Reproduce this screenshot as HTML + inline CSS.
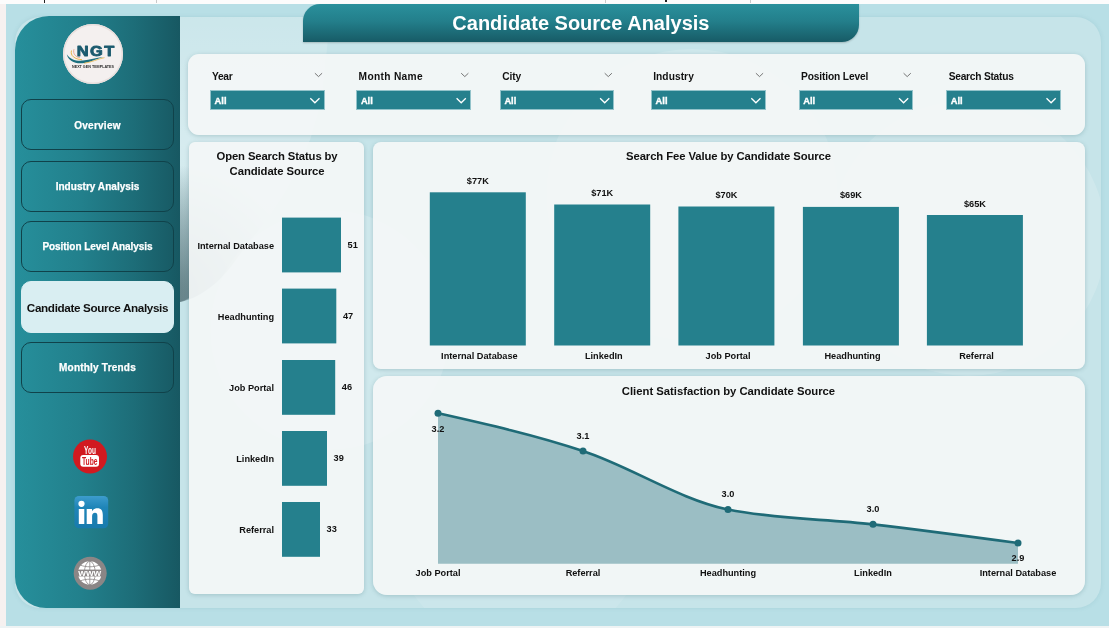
<!DOCTYPE html>
<html lang="en">
<head>
<meta charset="utf-8">
<title>Candidate Source Analysis</title>
<style>
*{box-sizing:border-box;margin:0;padding:0}
html,body{width:1109px;height:628px;overflow:hidden}
body{position:relative;background:#b8dfe6;font-family:"Liberation Sans",sans-serif;font-weight:bold;color:#111}
.abs{position:absolute}
#topstrip{left:0;top:0;width:1109px;height:4px;background:#fcfcfc}
#leftstrip{left:0;top:4px;width:6px;height:624px;background:#f6f1f0}
#botstrip{left:0;top:625.5px;width:1109px;height:3px;background:#eef3f4}
#inner{left:15px;top:16.5px;width:1085.5px;height:591.5px;border-radius:25px;background:#c6e4e9;box-shadow:0 0 4px rgba(90,150,160,.18)}
#side{left:15px;top:16px;width:164.5px;height:591.5px;border-radius:34px 0 0 31px;background:linear-gradient(90deg,#268f9b 0%,#22808c 40%,#1d6d78 72%,#175862 100%)}
#logo{left:62.5px;top:23.5px;width:60.5px;height:60.5px;border-radius:50%;background:#f4f0ef;box-shadow:0 0 0 1.5px #e9dfdd inset}
.nav{left:21px;width:153px;height:51px;border:1px solid #10424a;border-radius:10px;color:#fff;font-size:10px;display:flex;align-items:center;justify-content:center;white-space:nowrap;padding-top:1px;-webkit-text-stroke:.25px #fff}
.nav.on{-webkit-text-stroke:0;padding-top:0;background:#d9eef2;border-color:#d9eef2;color:#111;font-size:11.7px;letter-spacing:-.36px;height:52px;border-radius:10px}
#title{left:303px;top:3.8px;width:555.8px;height:38px;border-radius:17px 0 17px 0;background:linear-gradient(180deg,#2a909c 0%,#237f8b 45%,#175b66 100%);color:#fff;font-size:20px;text-align:center;line-height:38px;white-space:nowrap;box-shadow:0 1px 2px rgba(0,0,0,.2)}
.panel{background:rgba(245,247,247,.9);border-radius:7px;box-shadow:0 1px 4px rgba(60,110,120,.28)}
.flabel{font-size:10.2px;white-space:nowrap;top:70.8px;line-height:12px}
.fbox{top:90px;width:114.5px;height:19.5px;background:#25808d;border:1px solid #93c3ca;color:#fff;font-size:9.3px;line-height:21px;padding-left:3.6px;-webkit-text-stroke:.35px #fff}
.ptitle{font-size:11.3px;text-align:center;white-space:nowrap;line-height:14.8px}
.lbl{font-size:9.2px;white-space:nowrap;line-height:11px}
.bar{background:#25808d}
</style>
</head>
<body>
<div id="inner" class="abs"></div>
<svg class="abs" style="left:0;top:0" width="1109" height="628" viewBox="0 0 1109 628">
<defs>
<linearGradient id="gsh" x1="0" y1="0" x2="0" y2="1"><stop offset="0" stop-color="#4d6a70" stop-opacity="0"/><stop offset="1" stop-color="#4d6a70" stop-opacity=".55"/></linearGradient>
<clipPath id="cin"><rect x="100" y="16.5" width="1000.5" height="591.5" rx="25"/></clipPath>
<radialGradient id="gsh2" gradientUnits="userSpaceOnUse" cx="170" cy="290" r="125"><stop offset="0" stop-color="#4d6a70" stop-opacity=".6"/><stop offset=".25" stop-color="#4d6a70" stop-opacity=".4"/><stop offset="1" stop-color="#4d6a70" stop-opacity="0"/></radialGradient>
<linearGradient id="gwh" x1="0" y1="0" x2="0" y2="1"><stop offset="0" stop-color="#fff" stop-opacity=".1"/><stop offset=".45" stop-color="#fff" stop-opacity=".28"/><stop offset="1" stop-color="#fff" stop-opacity="0"/></linearGradient>
</defs>
<g clip-path="url(#cin)">
<path d="M180,17 L330,17 L322,100 L310,140 L290,184 C275,210 262,228 249,241 C235,262 222,280 208,289 C198,296 190,300 180,302 Z" fill="url(#gwh)"/>
<path d="M180,140 L300,140 L290,184 C275,210 262,228 249,241 C235,262 222,280 208,289 C198,296 190,300 180,302 Z" fill="url(#gsh2)"/>
<path d="M180,165 L189,165 L189,298 C186,300 183,301 180,302 Z" fill="url(#gsh)"/>
<circle cx="330" cy="330" r="120" fill="#fff" opacity=".18"/>
<circle cx="692" cy="195" r="146" fill="#fff" opacity=".16"/>
<circle cx="968" cy="238" r="138" fill="#fff" opacity=".17"/>
<circle cx="520" cy="520" r="130" fill="#fff" opacity=".1"/>
</g>
</svg>
<div id="topstrip" class="abs"></div>
<div id="leftstrip" class="abs"></div>
<div id="botstrip" class="abs"></div>
<div class="abs" style="left:43.5px;top:0;width:1.5px;height:2.5px;background:#222"></div>
<div class="abs" style="left:665px;top:0;width:1.5px;height:2px;background:#222"></div>
<div class="abs" style="left:156px;top:0;width:1px;height:3px;background:#c9c9c9"></div>
<div class="abs" style="left:605px;top:0;width:1px;height:3px;background:#c9c9c9"></div>
<div class="abs" style="left:750px;top:0;width:1px;height:3px;background:#c9c9c9"></div>
<div id="side" class="abs"></div>
<div id="logo" class="abs"></div>
<svg class="abs" style="left:62px;top:23px" width="62" height="62" viewBox="62 23 62 62">
<path d="M66.8,54.2 C70,59.5 76,61.2 83,60.6 C90,60 96,57.6 103.5,57 C97,58.6 92,61.6 84.5,62.9 C76,64.3 68.5,61.5 66.8,54.2 Z" fill="#1b6f7e"/>
<path d="M71.5,50.5 C70,55.5 74.5,59.3 82,59.7" fill="none" stroke="#e9b64d" stroke-width="1"/>
<path d="M74,49.2 C72.6,53.6 75.5,57 80,57.8" fill="none" stroke="#e58a6a" stroke-width=".7"/>
<path d="M84,63.3 C92,62.2 97,59.2 104.5,57.6" fill="none" stroke="#e9b64d" stroke-width=".8"/>
<text transform="translate(76.8,56.4) scale(1.08,1)" font-family="Liberation Sans, sans-serif" font-weight="bold" font-size="15.2" letter-spacing="1.3" fill="#1b5a6e" stroke="#1b5a6e" stroke-width=".9" stroke-linejoin="round">NGT</text>
<text x="72" y="68" font-family="Liberation Sans, sans-serif" font-weight="bold" font-size="3.1" textLength="42" lengthAdjust="spacingAndGlyphs" fill="#2b2b2b">NEXT GEN TEMPLATES</text>
</svg>
<div class="abs nav" style="top:99.2px;letter-spacing:.25px; padding-top:2.4px;">Overview</div>
<div class="abs nav" style="top:160.5px;letter-spacing:.04px;">Industry Analysis</div>
<div class="abs nav" style="top:220.7px;letter-spacing:-.05px;">Position Level Analysis</div>
<div class="abs nav on" style="top:281px">Candidate Source Analysis</div>
<div class="abs nav" style="top:341.6px;letter-spacing:.22px;">Monthly Trends</div>
<svg class="abs" style="left:60px;top:430px" width="60" height="170" viewBox="60 430 60 170">
<defs><linearGradient id="lg" x1="0" y1="0" x2="0" y2="1"><stop offset="0" stop-color="#3d9ccd"/><stop offset=".35" stop-color="#1f85b8"/><stop offset="1" stop-color="#187bad"/></linearGradient></defs>
<circle cx="90" cy="456.5" r="17" fill="#d11a20"/>
<text x="90" y="453.6" text-anchor="middle" font-family="Liberation Sans, sans-serif" font-weight="bold" font-size="11.5" textLength="11.8" lengthAdjust="spacingAndGlyphs" fill="#fff">You</text>
<rect x="80.3" y="455" width="18.7" height="11.8" rx="3" fill="#fff"/>
<text x="89.7" y="465" text-anchor="middle" font-family="Liberation Sans, sans-serif" font-weight="bold" font-size="11" textLength="15.6" lengthAdjust="spacingAndGlyphs" fill="#d11a20">Tube</text>
<rect x="74.4" y="496" width="33.8" height="32.3" rx="4.5" fill="url(#lg)"/>
<circle cx="81.5" cy="503.8" r="3.1" fill="#fff"/>
<rect x="78.8" y="509" width="5.5" height="15" fill="#fff"/>
<path d="M86.7,509 H92 V511.2 C93,509.4 95,508.3 97.4,508.3 C101.4,508.3 102.8,510.9 102.8,515 V524 H97.4 V516 C97.4,514 96.7,512.8 95,512.8 C93.1,512.8 92.1,514.1 92.1,516.2 V524 H86.7 Z" fill="#fff"/>
<circle cx="90.2" cy="573.2" r="16.5" fill="#8b8686"/>
<circle cx="89.8" cy="573" r="11.8" fill="#fff"/>
<g fill="none" stroke="#8b8686" stroke-width=".8">
<ellipse cx="89.8" cy="573" rx="5.4" ry="11.8"/>
<line x1="89.8" y1="560.7" x2="89.8" y2="585.3"/>
<path d="M80.5,565.2 C86,567.3 93.6,567.3 99.1,565.2 M80.5,580.8 C86,578.7 93.6,578.7 99.1,580.8"/>
</g>
<rect x="77.3" y="569.6" width="25" height="6.8" fill="#8b8686"/>
<text x="89.8" y="576.2" text-anchor="middle" font-family="Liberation Sans, sans-serif" font-weight="bold" font-size="8.6" textLength="23" lengthAdjust="spacingAndGlyphs" fill="#fff">www</text>
</svg>
<div id="title" class="abs">Candidate Source Analysis</div>
<div class="abs panel" style="left:188px;top:54px;width:897px;height:81px;border-radius:11px"></div>
<div class="abs panel" style="left:188.5px;top:142px;width:175.5px;height:452px;border-radius:6px"></div>
<div class="abs panel" style="left:372.5px;top:142px;width:712.5px;height:226.5px;border-radius:8px"></div>
<div class="abs panel" style="left:372.5px;top:376px;width:712.5px;height:219px;border-radius:14px"></div>
<div class="abs flabel" style="left:212px;letter-spacing:-0.3px">Year</div>
<div class="abs fbox" style="left:210px">All</div>
<div class="abs flabel" style="left:358.6px;letter-spacing:0.32px">Month Name</div>
<div class="abs fbox" style="left:356.3px">All</div>
<div class="abs flabel" style="left:502.2px;letter-spacing:-0.12px">City</div>
<div class="abs fbox" style="left:499.8px">All</div>
<div class="abs flabel" style="left:653.2px;letter-spacing:0.06px">Industry</div>
<div class="abs fbox" style="left:651px">All</div>
<div class="abs flabel" style="left:801.1px;letter-spacing:-0.14px">Position Level</div>
<div class="abs fbox" style="left:798.7px">All</div>
<div class="abs flabel" style="left:948.7px;letter-spacing:-0.23px">Search Status</div>
<div class="abs fbox" style="left:946.2px">All</div>
<svg class="abs" style="left:0;top:60px" width="1109" height="60" viewBox="0 60 1109 60" fill="none"><path d="M310.3,98.2 L314.9,102.8 L319.5,98.2" stroke="#fff" stroke-width="1.3"/><path d="M314.9,73.2 L318.5,76.6 L322.1,73.2" stroke="#666" stroke-width=".9"/><path d="M456.6,98.2 L461.2,102.8 L465.8,98.2" stroke="#fff" stroke-width="1.3"/><path d="M461.2,73.2 L464.8,76.6 L468.4,73.2" stroke="#666" stroke-width=".9"/><path d="M600.1,98.2 L604.7,102.8 L609.3,98.2" stroke="#fff" stroke-width="1.3"/><path d="M604.7,73.2 L608.3,76.6 L611.9,73.2" stroke="#666" stroke-width=".9"/><path d="M751.3,98.2 L755.9,102.8 L760.5,98.2" stroke="#fff" stroke-width="1.3"/><path d="M755.9,73.2 L759.5,76.6 L763.1,73.2" stroke="#666" stroke-width=".9"/><path d="M899.0,98.2 L903.6,102.8 L908.2,98.2" stroke="#fff" stroke-width="1.3"/><path d="M903.6,73.2 L907.2,76.6 L910.8,73.2" stroke="#666" stroke-width=".9"/><path d="M1046.5,98.2 L1051.1,102.8 L1055.7,98.2" stroke="#fff" stroke-width="1.3"/></svg>
<div class="abs ptitle" style="left:188px;top:148.8px;width:178px"><span style="letter-spacing:-.13px">Open Search Status by</span><br><span style="letter-spacing:-.08px">Candidate Source</span></div>
<div class="abs ptitle" style="left:372px;top:148.8px;width:713px;letter-spacing:-.1px">Search Fee Value by Candidate Source</div>
<div class="abs ptitle" style="left:372px;top:383.5px;width:713px;letter-spacing:-.02px">Client Satisfaction by Candidate Source</div>
<div class="abs lbl" style="left:409.8px;top:175.8px;width:136px;text-align:center">$77K</div>
<div class="abs lbl" style="left:411.4px;top:350.7px;width:136px;text-align:center">Internal Database</div>
<div class="abs lbl" style="left:534.2px;top:188.0px;width:136px;text-align:center">$71K</div>
<div class="abs lbl" style="left:535.8px;top:350.7px;width:136px;text-align:center">LinkedIn</div>
<div class="abs lbl" style="left:658.4px;top:190.0px;width:136px;text-align:center">$70K</div>
<div class="abs lbl" style="left:660.0px;top:350.7px;width:136px;text-align:center">Job Portal</div>
<div class="abs lbl" style="left:782.9px;top:190.4px;width:136px;text-align:center">$69K</div>
<div class="abs lbl" style="left:784.5px;top:350.7px;width:136px;text-align:center">Headhunting</div>
<div class="abs lbl" style="left:906.9px;top:198.5px;width:136px;text-align:center">$65K</div>
<div class="abs lbl" style="left:908.5px;top:350.7px;width:136px;text-align:center">Referral</div>
<div class="abs lbl" style="left:174px;top:240.79999999999998px;width:100px;text-align:right">Internal Database</div>
<div class="abs lbl" style="left:347.6px;top:239.6px">51</div>
<div class="abs lbl" style="left:174px;top:311.8px;width:100px;text-align:right">Headhunting</div>
<div class="abs lbl" style="left:342.9px;top:310.6px">47</div>
<div class="abs lbl" style="left:174px;top:383.2px;width:100px;text-align:right">Job Portal</div>
<div class="abs lbl" style="left:341.8px;top:382px">46</div>
<div class="abs lbl" style="left:174px;top:454.2px;width:100px;text-align:right">LinkedIn</div>
<div class="abs lbl" style="left:333.6px;top:453px">39</div>
<div class="abs lbl" style="left:174px;top:525.2px;width:100px;text-align:right">Referral</div>
<div class="abs lbl" style="left:326.6px;top:524px">33</div>
<svg class="abs" style="left:0;top:0" width="1109" height="628" viewBox="0 0 1109 628" fill="#25808d"><rect x="429.8" y="192.3" width="96" height="153.2"/><rect x="554.2" y="204.5" width="96" height="141.0"/><rect x="678.4" y="206.5" width="96" height="139.0"/><rect x="802.9" y="206.9" width="96" height="138.6"/><rect x="926.9" y="215" width="96" height="130.5"/><rect x="282" y="217.6" width="59" height="54.8"/><rect x="282" y="288.6" width="54.3" height="54.8"/><rect x="282" y="360" width="53.2" height="54.8"/><rect x="282" y="431" width="45" height="54.8"/><rect x="282" y="502" width="38" height="54.8"/></svg>
<svg class="abs" style="left:0;top:0" width="1109" height="628" viewBox="0 0 1109 628"><path d="M438,413.2 C486.3,424.07 534.7,434.95 583,451 C631.3,467.05 679.7,499.63 728,509.5 C776.3,519.37 824.7,518.72 873,524.3 C921.3,529.88 969.7,536.44 1018,543 L1018,563.8 L438,563.8 Z" fill="#9bbec4"/><path d="M438,413.2 C486.3,424.07 534.7,434.95 583,451 C631.3,467.05 679.7,499.63 728,509.5 C776.3,519.37 824.7,518.72 873,524.3 C921.3,529.88 969.7,536.44 1018,543" fill="none" stroke="#1f6b77" stroke-width="2.7" stroke-linecap="round"/><circle cx="438" cy="413.2" r="3.5" fill="#1f6b77"/><circle cx="583" cy="451" r="3.5" fill="#1f6b77"/><circle cx="728" cy="509.5" r="3.5" fill="#1f6b77"/><circle cx="873" cy="524.3" r="3.5" fill="#1f6b77"/><circle cx="1018" cy="543" r="3.5" fill="#1f6b77"/></svg>
<div class="abs lbl" style="left:408px;top:423.5px;width:60px;text-align:center">3.2</div>
<div class="abs lbl" style="left:553px;top:430.5px;width:60px;text-align:center">3.1</div>
<div class="abs lbl" style="left:698px;top:488.5px;width:60px;text-align:center">3.0</div>
<div class="abs lbl" style="left:843px;top:503.5px;width:60px;text-align:center">3.0</div>
<div class="abs lbl" style="left:988px;top:552.5px;width:60px;text-align:center">2.9</div>
<div class="abs lbl" style="left:378px;top:567.5px;width:120px;text-align:center">Job Portal</div>
<div class="abs lbl" style="left:523px;top:567.5px;width:120px;text-align:center">Referral</div>
<div class="abs lbl" style="left:668px;top:567.5px;width:120px;text-align:center">Headhunting</div>
<div class="abs lbl" style="left:813px;top:567.5px;width:120px;text-align:center">LinkedIn</div>
<div class="abs lbl" style="left:958px;top:567.5px;width:120px;text-align:center">Internal Database</div>
</body>
</html>
